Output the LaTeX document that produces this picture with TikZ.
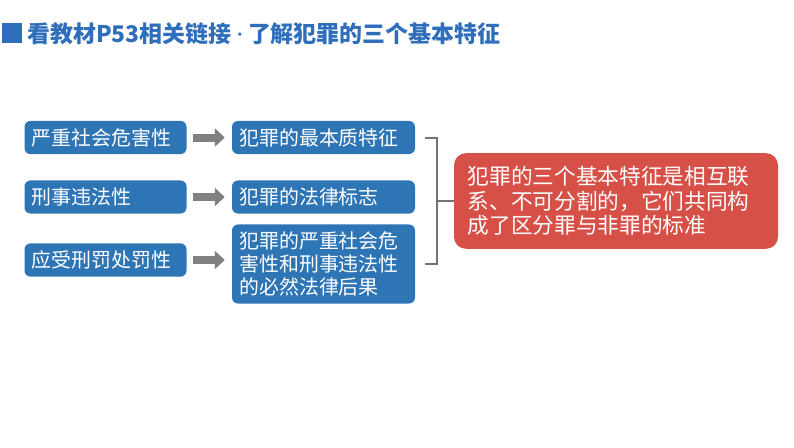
\documentclass[tikz,border=0pt]{standalone}
\usepackage{fontspec}
\newfontfamily\cjk{Noto Sans CJK SC}
\usetikzlibrary{arrows.meta}
\usetikzlibrary{positioning}
\definecolor{titleblue}{RGB}{47, 110, 186}
\definecolor{boxblue}{RGB}{46, 117, 182}
\definecolor{boxred}{RGB}{214, 80, 72}
\definecolor{arrowgray}{RGB}{128, 128, 128}

\begin{document}
\begin{tikzpicture}[
        bluebox/.style={fill=boxblue, rounded corners=0.18cm, text=white, inner sep=0.22cm,
            font=\cjk\fontsize{17}{19.6}\selectfont, align=left, minimum height=0.93cm},
        leftbox/.style={bluebox, text width=4.42cm},
        midbox/.style={bluebox, text width=5.05cm},
        arrow/.style={-{Triangle[width=0.54cm, length=0.3cm]}, line width=0.24cm, arrowgray,
            shorten <=0.18cm, shorten >=0.21cm},
        brace/.style={draw=arrowgray!90!black, line width=0.06cm}
    ]
        \useasboundingbox (0,0) rectangle (23.82,-13.41);

        % --- Titel ---
        \node[fill=titleblue, minimum size=0.6cm, inner sep=0pt] (mark) at (0.36,-1.0) {};
        \node[right=0.14cm of mark, inner sep=0pt, text=titleblue, font=\cjk\bfseries\fontsize{19.6}{24}\selectfont] (title)
            {看教材P53相关链接\kern-0.08em{\rmfamily\bfseries\textperiodcentered}\kern-0.08em了解犯罪的三个基本特征};

        % --- Linke Spalte ---
        \node[leftbox] (l1) at (3.165,-4.125) {严重社会危害性};
        \node[leftbox] (l2) at (3.165,-5.91) {刑事违法性};
        \node[leftbox] (l3) at (3.165,-7.8) {应受刑罚处罚性};

        % --- Mittlere Spalte ---
        \node[midbox] (m1) at (9.705,-4.125) {犯罪的最本质特征};
        \node[midbox] (m2) at (9.705,-5.91) {犯罪的法律标志};
        \node[midbox, minimum height=2.1cm] (m3) at (9.705,-7.92) {犯罪的严重社会危\\害性和刑事违法性\\的必然法律后果};

        \draw[arrow] (l1) -- (m1);
        \draw[arrow] (l2) -- (m2);
        \draw[arrow] (l3) -- (l3 -| m3.west);

        % --- Ergebnis ---
        \node[fill=boxred, rounded corners=0.36cm, text=white, text width=8.9cm, align=left,
            minimum width=9.72cm, minimum height=2.64cm, inner sep=0.4cm,
            font=\cjk\fontsize{18.5}{20.8}\selectfont] (red) at (18.48,-6.03)
            {犯罪的三个基本特征是相互联\\系、不可分割的，它们共同构\\成了区分罪与非罪的标准};

        % Klammer
        \coordinate (b1) at ([xshift=0.3cm]m1.east);
        \coordinate (b3) at ([xshift=0.3cm]m3.east);
        \draw[brace] (b1) -- ++(0.36cm,0) coordinate (bt) -- (bt |- b3) -- (b3);
        \draw[brace] (bt |- red) -- (red.west);
\end{tikzpicture}
\end{document}
